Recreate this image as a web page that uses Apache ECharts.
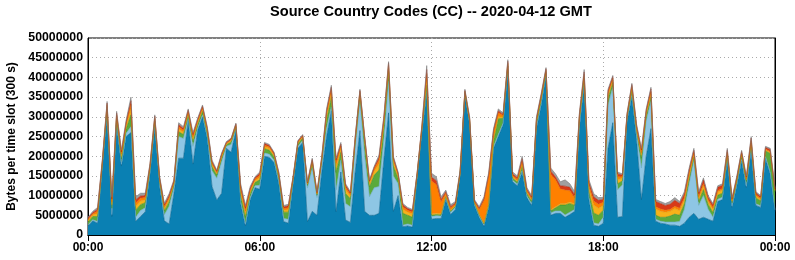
<!DOCTYPE html>
<html><head><meta charset="utf-8">
<script src="https://cdn.jsdelivr.net/npm/echarts@6/dist/echarts.min.js"></script>
<style>html,body{margin:0;padding:0;background:#fff}#c{width:795px;height:260px}</style>
</head><body><div id="c"></div>
<script>
// values in millions of bytes per 300 s slot, sampled every 10 minutes (00:00 .. 24:00)
const UNIT = 1000000;
const stepMinutes = 10;
const tickLabels = ["00:00", "06:00", "12:00", "18:00", "00:00"];
const yTicks = 5000000;

const ccBlue = [2.3,3.6,3.0,17,30.5,4.7,28,17.5,25,26, 3.5,4.7,5.9,15.5,27.5,12.5,3.6,2.8,10.5,19.5, 19.5,29,18,26.7,30,24.5,12.3,8.9,10.6,22, 21,26.5,8,2.3,9,12,
 11.6,20,19.7,18.4,13,3.4,3,13,22,23.5, 3.4,6,5,16,25,31.5,5.9,16,3.8,3.2, 16,26.5,6,5,5,5.5,19,31,6,10, 2.1,2.3,2,14.5,26,36,
 4,4.2,4.2,9,5.2,6.5,15,35.5,28,7.5, 4.5,2.2,7,22,25,28,41.5,13.5,12.5,16, 9.5,7.5,27,33,40.5,5,5.5,5.5,4.5,5.2, 6,27,38.5,9,2.5,2.2,
 3,22,28.5,4.5,4.7,29,35,24,9,20, 27,3.5,3.0,2.8,2.5,2.5,2.2,3.0,4.5,5.5, 4,4.5,4,3.5,8.5,9,19,7,12.5,18.8, 12,21.5,7.5,7,19.5,15.5,6];
const ccLightBlue = [0.3,0.3,0.4,0.3,0.5,0.5,0.5,0.5,0.8,1.5, 1,1.5,1,0.5,0.5,0.5,1.5,4.5,1.5,5.5, 5,0.5,4.5,0.5,0.5,0.5,4,5.5,8,0.5, 2,0.4,0.5,0.5,0.5,0.5,
 1,0.8,0.8,0.6,0.6,0.8,1,0.5,0.5,0.5, 8.5,11,4.5,2,2,1,5.5,3,4.2,4, 6,7.5,14,4.7,7,6.8,5,8,9,3, 0.4,0.5,0.5,0.3,0.3,0.5,
 0.7,0.7,0.6,0.5,0.5,0.5,0.4,0.4,0.4,0.4, 0.4,0.4,0.4,0.4,0.5,0.4,0.4,0.4,0.4,0.4, 0.4,0.4,0.4,0.4,0.4,0.6,0.6,0.6,0.6,0.6, 0.5,0.6,0.6,0.6,0.6,0.6,
 1.5,11,9,7,8,0.6,0.6,1.5,8,9, 7,0.5,0.5,0.5,0.8,0.8,1.2,3.5,8.5,13.5, 3.5,5.5,2.5,1,0.6,0.6,0.5,0.4,0.4,0.4, 0.4,0.4,0.4,0.4,0.4,0.4,0.4];
const ccGreen = [0.7,0.8,1.3,0.6,1.0,1.6,1.0,1.3,1.2,3.0, 1.8,1.5,1.3,0.8,0.9,0.7,1.0,1.1,0.7,1.2, 1.0,0.9,1.2,0.9,0.9,0.9,1.0,0.8,0.8,0.4, 0.6,0.5,1.6,1.7,1.0,0.8,
 1.4,1.1,1.0,0.8,1.0,1.6,1.8,0.6,0.6,0.6, 0.7,1.1,0.6,0.8,2.2,2.4,4.5,2.0,2.5,2.0, 1.4,1.4,3,2.5,3.2,4.2,3,2.5,2.5,1.4, 3,2.2,2,0.4,0.5,1.5,
 0.3,0.3,0.3,0.3,0.3,0.3,0.2,0.2,0.3,0.2, 0.2,0.2,0.3,1.5,4,1.2,1,0.5,0.5,1, 0.6,0.6,1.2,1.2,0.4,0.5,0.8,1.5,2.5,2.2, 1,1.8,0.6,1.2,2.5,2.2,
 1.8,1.6,1.2,1.5,1.0,0.4,1.0,0.8,2.5,1.2, 1.0,1.0,1.0,1.2,1.5,2.0,1.6,1.4,1.2,0.8, 1.0,1.5,1.2,1.2,1.0,1.0,0.8,0.8,0.8,1.0, 1.2,1.4,1.5,1.2,1.4,4.8,4.5];
const ccYellow = [0.4,0.4,0.7,0.3,0.6,0.9,0.6,0.7,0.7,1.5, 1.0,0.9,0.7,0.4,0.5,0.4,0.6,0.6,0.4,0.7, 0.6,0.5,0.7,0.5,0.5,0.5,0.5,0.4,0.4,0.2, 0.3,0.3,0.9,1.0,0.6,0.5,
 0.6,0.5,0.5,0.4,0.4,0.5,0.6,0.3,0.3,0.3, 0.3,0.4,0.3,0.4,1.0,1.1,1.5,0.9,1.0,0.7, 0.6,0.6,1,0.8,1.0,1.5,1.2,1,1,0.6, 1,0.8,0.8,0.3,0.4,1.5,
 0.3,0.3,0.3,0.2,0.2,0.2,0.2,0.2,0.3,0.2, 0.2,0.2,0.3,0.3,0.5,0.3,0.4,0.3,0.3,0.5, 0.3,0.3,0.3,0.3,0.3,0.3,0.3,0.3,0.3,0.4, 0.4,0.4,0.5,1.0,2.0,1.8,
 1.2,0.8,0.6,1.0,0.7,0.3,0.6,0.5,0.8,0.6, 0.8,1.6,1.5,1.3,1.2,1.4,1.2,1.0,1.0,0.7, 0.8,1.0,0.8,0.8,0.8,0.8,0.5,0.4,0.4,0.4, 0.4,0.4,0.5,0.4,0.3,0.3,0.3];
const ccOrange = [0.3,0.3,0.6,0.3,0.5,0.7,0.5,0.6,0.5,1.2, 0.8,0.7,0.6,0.4,0.4,0.3,0.5,0.5,0.3,0.6, 0.5,0.4,0.6,0.4,0.4,0.4,0.4,0.3,0.4,0.2, 0.3,0.3,0.7,0.7,0.4,0.4,
 0.5,0.4,0.4,0.3,0.4,0.4,0.5,0.2,0.2,0.2, 0.2,0.4,0.2,0.3,0.8,0.9,1.0,0.7,0.6,0.4, 0.4,0.4,0.5,0.5,0.6,1.0,0.8,0.7,0.7,0.4, 0.6,0.5,0.5,0.2,0.3,1.5,
 8.4,7.3,3.0,0.6,0.6,0.3,0.2,0.2,0.3,0.2, 1.2,5.8,7,2.0,1,0.4,0.4,0.4,0.4,0.8, 0.4,0.4,0.4,0.4,0.3,9.0,6.8,3.8,3.5,2.8, 1.5,0.4,0.6,0.8,1.0,1.0,
 0.8,0.6,0.5,0.8,0.4,0.3,0.5,0.4,0.6,0.4, 0.6,0.6,0.6,0.5,0.5,0.6,0.6,0.5,0.5,0.4, 0.4,0.5,0.4,0.4,0.4,0.4,0.3,0.2,0.2,0.2, 0.2,0.3,0.3,0.3,0.2,0.2,0.2];
const ccRed = [0.3,0.3,0.5,0.3,0.4,0.7,0.4,0.5,0.5,0.9, 0.8,0.6,0.5,0.3,0.4,0.3,0.4,0.5,0.3,0.5, 0.4,0.4,0.5,0.4,0.4,0.4,0.4,0.3,0.3,0.2, 0.2,0.2,0.7,0.7,0.4,0.3,
 0.5,0.4,0.3,0.3,0.3,0.4,0.5,0.2,0.2,0.2, 0.2,0.3,0.2,0.3,0.5,0.6,0.6,0.5,0.5,0.4, 0.3,0.3,0.3,0.3,0.4,0.7,0.6,0.5,0.5,0.3, 0.5,0.4,0.4,0.2,0.3,1.0,
 1.0,1.0,0.6,0.4,0.4,0.3,0.2,0.2,0.3,0.2, 0.3,0.4,0.5,0.4,0.5,0.3,0.4,0.4,0.4,0.7, 0.4,0.4,0.3,0.3,0.3,0.8,0.7,0.8,1.0,0.9, 0.8,0.4,0.6,0.7,1.1,1.0,
 0.7,0.6,0.4,0.7,0.4,0.2,0.5,0.5,0.7,0.5, 0.7,1.3,1.4,1.2,1.3,1.5,1.2,1.0,0.8,0.6, 0.8,1.0,0.7,0.7,0.8,0.8,0.5,0.4,0.4,0.4, 0.5,0.6,0.5,0.4,0.4,0.5,0.3];
const ccGrey = [0.2,0.3,0.5,0.2,0.4,0.6,0.4,0.5,0.5,0.9, 0.8,0.7,0.6,0.3,0.3,0.3,0.5,0.5,0.3,0.5, 0.5,0.3,0.5,0.3,0.3,0.3,0.4,0.3,0.3,0.2, 0.2,0.2,0.6,0.7,0.4,0.3,
 0.4,0.3,0.3,0.2,0.3,0.4,0.4,0.2,0.2,0.2, 0.2,0.3,0.2,0.2,0.5,0.5,0.5,0.4,0.4,0.3, 0.3,0.3,0.2,0.2,0.3,0.6,0.4,0.3,0.3,0.3, 0.4,0.3,0.3,0.1,0.2,1.0,
 1.0,1.0,0.7,0.4,0.5,0.4,0.3,0.3,0.4,0.3, 0.4,0.5,0.5,0.4,0.5,0.4,0.4,0.5,0.5,0.6, 0.4,0.4,0.4,0.4,0.3,0.8,0.8,1.0,1.6,0.9, 0.8,0.4,0.6,0.7,0.8,0.7,
 0.5,0.4,0.3,0.5,0.3,0.2,0.3,0.3,0.4,0.3, 0.4,0.5,0.5,0.5,0.7,0.7,0.5,0.6,0.5,0.5, 0.5,0.5,0.4,0.4,0.4,0.4,0.4,0.3,0.3,0.3, 0.3,0.4,0.3,0.3,0.3,0.3,0.3];

const layers = [
  {name: 'blue', data: ccBlue, fill: '#0a80b3', line: '#06628c'},
  {name: 'lightblue', data: ccLightBlue, fill: '#8ec6e4', line: '#6aa9cc'},
  {name: 'green', data: ccGreen, fill: '#5aaa3c', line: '#3f8a2a'},
  {name: 'yellow', data: ccYellow, fill: '#f6b21a', line: '#d89a10'},
  {name: 'orange', data: ccOrange, fill: '#ff8000', line: '#e06c00'},
  {name: 'red', data: ccRed, fill: '#d83a18', line: '#b02a10'},
  {name: 'grey', data: ccGrey, fill: '#a0a0a0', line: '#7a7a7a'}
];

// time-slot categories (one per sample)
const slots = ccBlue.map((_, i) => {
  const m = (i * stepMinutes) % 1440;
  return String(Math.floor(m / 60)).padStart(2, '0') + ':' + String(m % 60).padStart(2, '0');
});
const tickEvery = 360 / stepMinutes;

const chart = echarts.init(document.getElementById('c'), null, {renderer: 'canvas'});
const FONT = 'Liberation Sans, Arial, sans-serif';
const series = layers.map(l => ({
  name: l.name, type: 'line', stack: 'cc', symbol: 'none', showSymbol: false,
  smooth: false, silent: true, animation: false,
  lineStyle: {width: 0.6, color: l.line},
  areaStyle: {color: l.fill, opacity: 1},
  data: l.data.map(v => v * UNIT)
}));

const tickIv = (idx) => idx % tickEvery === 0;
const fmtX = (v, idx) => tickLabels[Math.round(idx / tickEvery)] || '';
chart.setOption({
  animation: false,
  grid: {left: 88, right: 20, top: 38, bottom: 25, containLabel: false, outerBoundsMode: 'none',
         show: true, borderColor: '#000', borderWidth: 1, backgroundColor: 'transparent'},
  graphic: [{type: 'text', left: 270, top: 4, style: {text: 'Source Country Codes (CC) -- 2020-04-12 GMT', font: 'bold 14.6px Liberation Sans, Arial, sans-serif', fill: '#000'}}],
  xAxis: [
    {type: 'category', data: slots, boundaryGap: false, position: 'bottom',
     axisLine: {show: true, lineStyle: {color: '#000'}}, axisTick: {inside: true, length: 6, interval: tickIv, lineStyle: {color: '#000'}},
     axisLabel: {interval: tickIv, formatter: fmtX, color: '#000', fontFamily: FONT, fontWeight: 'bold', fontSize: 12, margin: 7},
     splitLine: {show: true, interval: tickIv, lineStyle: {type: [1, 3], color: '#aaa', width: 1}}},
    {type: 'category', data: slots, boundaryGap: false, position: 'top',
     axisLine: {show: true, lineStyle: {color: '#000'}}, axisTick: {inside: true, length: 6, interval: tickIv, lineStyle: {color: '#000'}},
     axisLabel: {show: false}, splitLine: {show: false}}
  ],
  yAxis: [
    {type: 'value', min: 0, max: 50000000, interval: yTicks, position: 'left',
     name: 'Bytes per time slot (300 s)', nameLocation: 'middle', nameRotate: 90, nameGap: 68,
     nameTextStyle: {color: '#000', fontFamily: FONT, fontWeight: 'bold', fontSize: 12},
     axisLine: {show: true, lineStyle: {color: '#000'}}, axisTick: {inside: true, length: 6, lineStyle: {color: '#000'}},
     axisLabel: {formatter: v => String(v), color: '#000', fontFamily: FONT, fontWeight: 'bold', fontSize: 12.3, margin: 5},
     splitLine: {show: true, lineStyle: {type: [1, 3], color: '#aaa', width: 1}}},
    {type: 'value', min: 0, max: 50000000, interval: yTicks, position: 'right',
     axisLine: {show: true, lineStyle: {color: '#000'}}, axisTick: {inside: true, length: 6, lineStyle: {color: '#000'}},
     axisLabel: {show: false}, splitLine: {show: false}}
  ],
  series: series
});
</script></body></html>
